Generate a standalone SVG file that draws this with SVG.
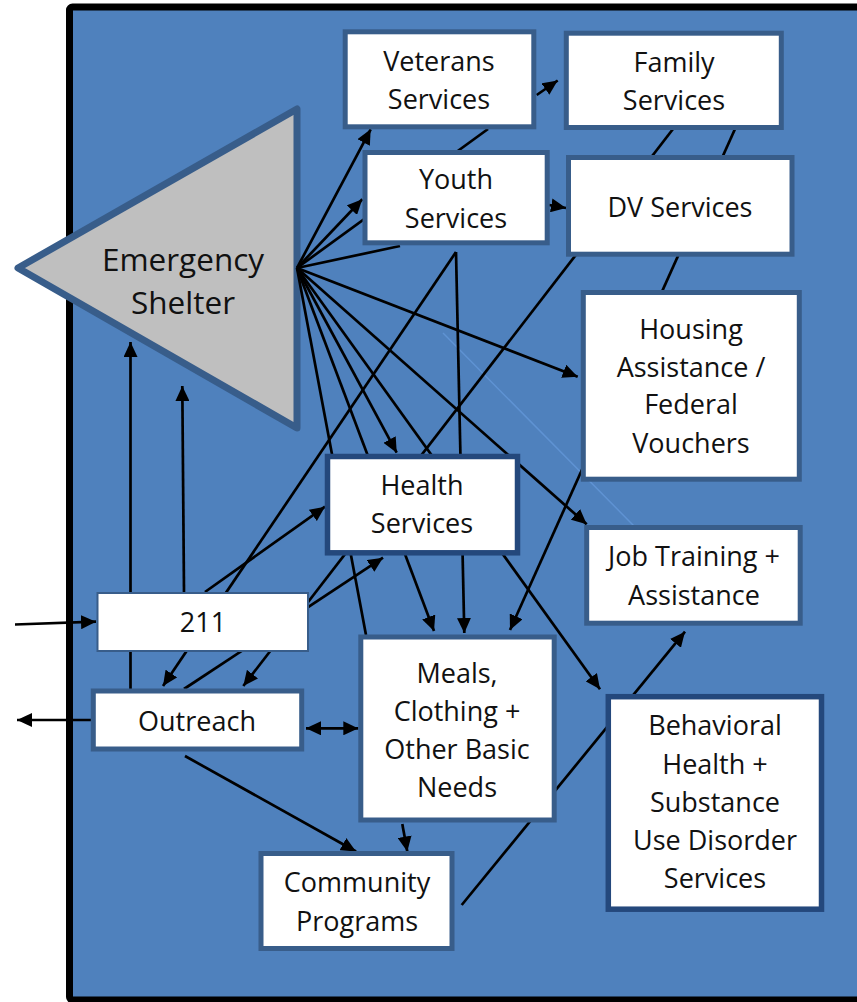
<svg xmlns="http://www.w3.org/2000/svg" width="857" height="1002" viewBox="0 0 857 1002">
<defs>
<marker id="ah" viewBox="0 0 15 14" refX="15" refY="7" markerWidth="15" markerHeight="14" markerUnits="userSpaceOnUse" orient="auto-start-reverse">
<path d="M0,0 L15,7 L0,14 z" fill="#000"/>
</marker>
<style>
.box{fill:#fff;stroke:#385D8A;stroke-width:5}
.dark{stroke:#24487C;stroke-width:5.5}
.thin{stroke-width:2}
.t{font-family:"Open Sans","Liberation Sans",sans-serif;font-size:27px;fill:#111;text-anchor:middle}
.c{fill:none;stroke:#000;stroke-width:2.7}
.a{marker-end:url(#ah)}
</style>
</defs>
<rect x="0" y="0" width="857" height="1002" fill="#fff"/>
<rect id="frame" x="69.5" y="7" width="800" height="993" rx="3" fill="#4F81BD" stroke="#000" stroke-width="7"/>

<g id="emergency-shelter">
<polygon points="297,109 297,428 18,268" fill="#BFBFBF" stroke="#385D8A" stroke-width="7" stroke-linejoin="round"/>
<text class="t" x="183" y="271" style="font-size:31.5px">Emergency</text>
<text class="t" x="183" y="314" style="font-size:31.5px">Shelter</text>
</g>

<g id="connectors">
<line x1="443" y1="333" x2="634" y2="526" stroke="#5F93D3" stroke-width="1.5"/>
<line class="c a" x1="15" y1="624.5" x2="96" y2="621.7"/>
<line class="c a" x1="93" y1="720" x2="17" y2="720"/>
<line class="c a" x1="130.5" y1="689" x2="130.5" y2="342"/>
<line class="c a" x1="184" y1="592" x2="182.3" y2="386"/>
<line class="c a" x1="205" y1="592" x2="325" y2="506.7"/>
<line class="c a" x1="184" y1="689" x2="383" y2="557.7"/>
<line class="c a" x1="673" y1="129" x2="243.3" y2="686"/>
<line class="c a" x1="456" y1="252" x2="163" y2="686"/>
<line class="c a" x1="456" y1="252" x2="464.3" y2="633"/>
<line class="c a" x1="306" y1="728.3" x2="358.3" y2="728.3" marker-start="url(#ah)"/>
<line class="c a" x1="185" y1="756" x2="356" y2="851.5"/>
<line class="c a" x1="402.3" y1="824" x2="407.3" y2="851.5"/>
<line class="c a" x1="461.7" y1="905" x2="685" y2="631.7"/>
<line class="c a" x1="735" y1="129" x2="510" y2="630"/>
<line class="c" x1="488" y1="129" x2="297" y2="268"/>
<line class="c a" x1="536.7" y1="95" x2="557.7" y2="80.5"/>
<line class="c a" x1="549" y1="205" x2="566" y2="208"/>
<line class="c" x1="297" y1="268" x2="366" y2="635"/>
<line class="c a" x1="297" y1="268" x2="434" y2="631"/>
<line class="c a" x1="297" y1="268" x2="396.7" y2="452.7"/>
<line class="c a" x1="297" y1="268" x2="600" y2="689.3"/>
<line class="c a" x1="297" y1="268" x2="586.7" y2="524.3"/>
<line class="c a" x1="297" y1="268" x2="577.7" y2="376.7"/>
<line class="c" x1="297" y1="268" x2="400" y2="246"/>
<line class="c a" x1="297" y1="268" x2="362.3" y2="199.3"/>
<line class="c a" x1="297" y1="268" x2="370.7" y2="129.3"/>
</g>

<g id="veterans-services">
<rect class="box" x="345.2" y="31.8" width="188.6" height="95"/>
<text class="t" x="439" y="71">Veterans</text>
<text class="t" x="439" y="109">Services</text>
</g>
<g id="family-services">
<rect class="box" x="566.3" y="33.2" width="215" height="94.3"/>
<text class="t" x="674" y="72">Family</text>
<text class="t" x="674" y="110">Services</text>
</g>
<g id="youth-services">
<rect class="box" x="365" y="152.5" width="182.2" height="90.3"/>
<text class="t" x="456" y="189">Youth</text>
<text class="t" x="456" y="228">Services</text>
</g>
<g id="dv-services">
<rect class="box" x="568.5" y="157.5" width="223.5" height="96.7"/>
<text class="t" x="680" y="217">DV Services</text>
</g>
<g id="housing-assistance">
<rect class="box" x="583.3" y="292.5" width="216" height="186.7"/>
<text class="t" x="691" y="339">Housing</text>
<text class="t" x="691" y="377">Assistance /</text>
<text class="t" x="691" y="414">Federal</text>
<text class="t" x="691" y="453">Vouchers</text>
</g>
<g id="health-services">
<rect class="box dark" x="327.5" y="456.5" width="190" height="96.3"/>
<text class="t" x="422" y="495">Health</text>
<text class="t" x="422" y="533">Services</text>
</g>
<g id="job-training">
<rect class="box" x="586.7" y="527.5" width="213.5" height="95.7"/>
<text class="t" x="694" y="566">Job Training +</text>
<text class="t" x="694" y="605">Assistance</text>
</g>
<g id="n211">
<rect class="box thin" x="97.5" y="593" width="210.5" height="58"/>
<text class="t" x="203" y="632">211</text>
</g>
<g id="outreach">
<rect class="box" x="93.3" y="691" width="208.4" height="58"/>
<text class="t" x="197" y="731">Outreach</text>
</g>
<g id="meals">
<rect class="box" x="360.8" y="637" width="193.4" height="183"/>
<text class="t" x="457" y="683">Meals,</text>
<text class="t" x="457" y="721">Clothing +</text>
<text class="t" x="457" y="759">Other Basic</text>
<text class="t" x="457" y="797">Needs</text>
</g>
<g id="behavioral-health">
<rect class="box dark" x="608.3" y="696.7" width="213.2" height="212.5"/>
<text class="t" x="715" y="735">Behavioral</text>
<text class="t" x="715" y="774">Health +</text>
<text class="t" x="715" y="812">Substance</text>
<text class="t" x="715" y="850">Use Disorder</text>
<text class="t" x="715" y="888">Services</text>
</g>
<g id="community-programs">
<rect class="box" x="261" y="853.5" width="191" height="95"/>
<text class="t" x="357" y="892">Community</text>
<text class="t" x="357" y="931">Programs</text>
</g>
</svg>
